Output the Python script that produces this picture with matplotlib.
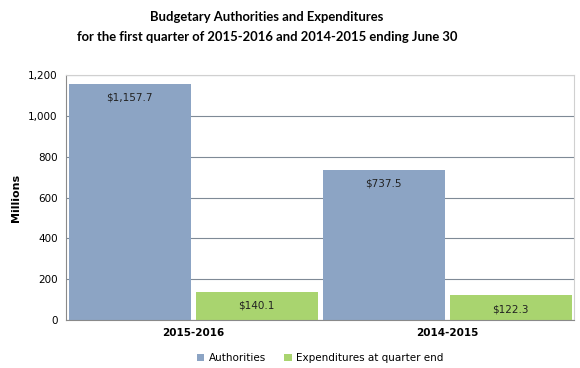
import numpy as np
import matplotlib.pyplot as plt

periods = ["2015-2016", "2014-2015"]
authorities = [1157.7, 737.5]
expenditures = [140.1, 122.3]
series_names = ["Authorities", "Expenditures at quarter end"]

blue = "#8CA4C4"
green = "#A9D46F"

fig = plt.figure(figsize=(5.8, 3.68), dpi=100)
ax = fig.add_axes([0.114, 0.130, 0.876, 0.666])

x = np.arange(len(periods))
w = 0.48
gap = 0.01
b1 = ax.bar(x - w / 2 - gap, authorities, w, color=blue, label=series_names[0], zorder=2)
b2 = ax.bar(x + w / 2 + gap, expenditures, w, color=green, label=series_names[1], zorder=2)

for bars in (b1, b2):
    for rect in bars:
        h = rect.get_height()
        ax.annotate(f"${h:,.1f}", (rect.get_x() + rect.get_width() / 2, h),
                    xytext=(0, -10), textcoords="offset points",
                    ha="center", va="center", fontsize=7.5, color="#222222")

ax.set_xlim(-0.5, 1.5)
ax.set_ylim(0, 1200)
ax.set_yticks(range(0, 1201, 200))
ax.set_yticklabels([f"{v:,}" for v in range(0, 1201, 200)], fontsize=7.5)
ax.set_xticks(x)
ax.set_xticklabels(periods, fontsize=7.5, fontweight="bold")
ax.tick_params(axis="both", length=0, pad=6)
ax.yaxis.grid(True, color="#7F8A96", linewidth=0.8, zorder=1)
ax.set_axisbelow(True)
for s in ax.spines.values():
    s.set_color("#D0D0D0")
ax.spines["bottom"].set_color("#8A8A8A")
ax.spines["left"].set_color("#8A8A8A")

ax.set_ylabel("Millions", fontsize=8, fontweight="bold", labelpad=5)

fig.suptitle("Budgetary Authorities and Expenditures\nfor the first quarter of 2015-2016 and 2014-2015 ending June 30",
             x=0.46, y=0.97, fontsize=9.4, fontweight="bold", family="Lato", linespacing=1.75)

ax.legend(loc="center", bbox_to_anchor=(0.5, -0.155), ncol=2, frameon=False,
          fontsize=7.5, handlelength=0.7, handleheight=0.7, handletextpad=0.4, columnspacing=1.8)

fig.savefig("out.png", dpi=100)
